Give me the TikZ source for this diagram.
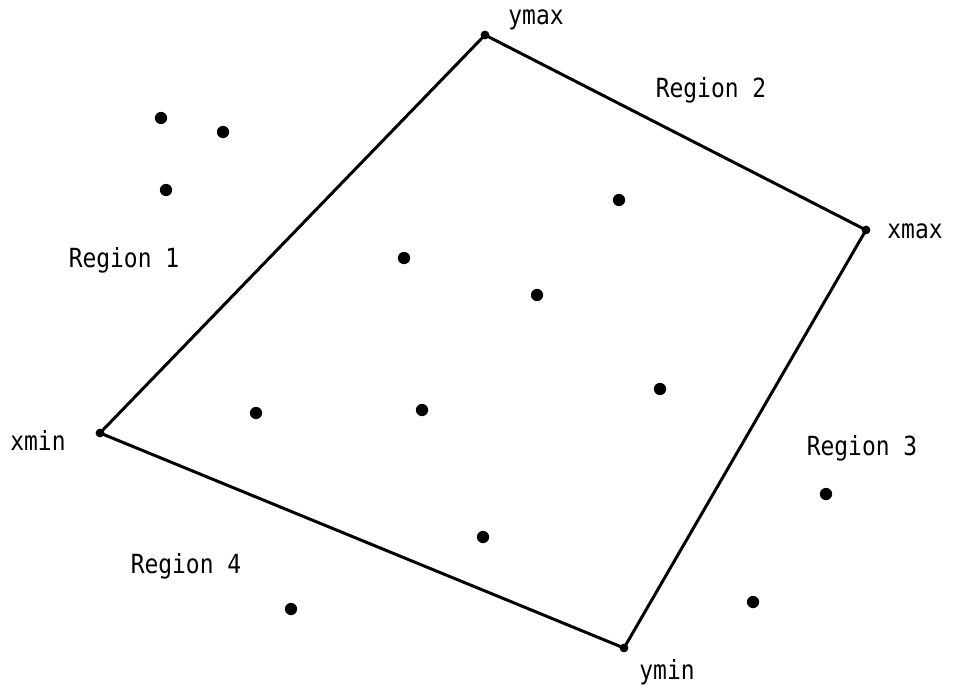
\documentclass[tikz,border=0pt]{standalone}
\usepackage{fontspec}
\newfontfamily\typew[FakeStretch=0.87]{DejaVu Sans Mono}
\tikzset{
  hull/.style = {line width=1.7pt, line join=round},
  corner/.style = {circle, fill, inner sep=0pt, minimum size=5pt},
  sample/.style = {circle, fill, inner sep=0pt, minimum size=7pt},
  lbl/.style = {font=\typew\fontsize{15}{17}\selectfont, inner sep=0pt}
}

\begin{document}
\begin{tikzpicture}[x=0.02cm,y=-0.02cm]
  \useasboundingbox (0,0) rectangle (961,693);
  \node[corner] (xmin) at (100,433) {};
  \node[corner] (ymax) at (485,35) {};
  \node[corner] (xmax) at (866,230) {};
  \node[corner] (ymin) at (624,648) {};
  \draw[hull] (xmin.center) -- (ymax.center) -- (xmax.center)
    -- (ymin.center) -- cycle;
  \node[lbl] at (38,440) {xmin};
  \node[lbl] at (536,20) {ymax};
  \node[lbl] at (915,231) {xmax};
  \node[lbl] at (667,672) {ymin};
  \node[lbl] (r1) at (124,260) {Region 1};
  \node[lbl] (r2) at (711,90) {Region 2};
  \node[lbl] (r3) at (862,448) {Region 3};
  \node[lbl] (r4) at (186,566) {Region 4};
  \foreach \px/\py [count=\i] in {161/118, 223/132, 166/190, 404/258,
      537/295, 619/200, 660/389, 422/410, 256/413, 483/537,
      826/494, 753/602, 291/609}
    \node[sample] (p\i) at (\px,\py) {};
\end{tikzpicture}
\end{document}
